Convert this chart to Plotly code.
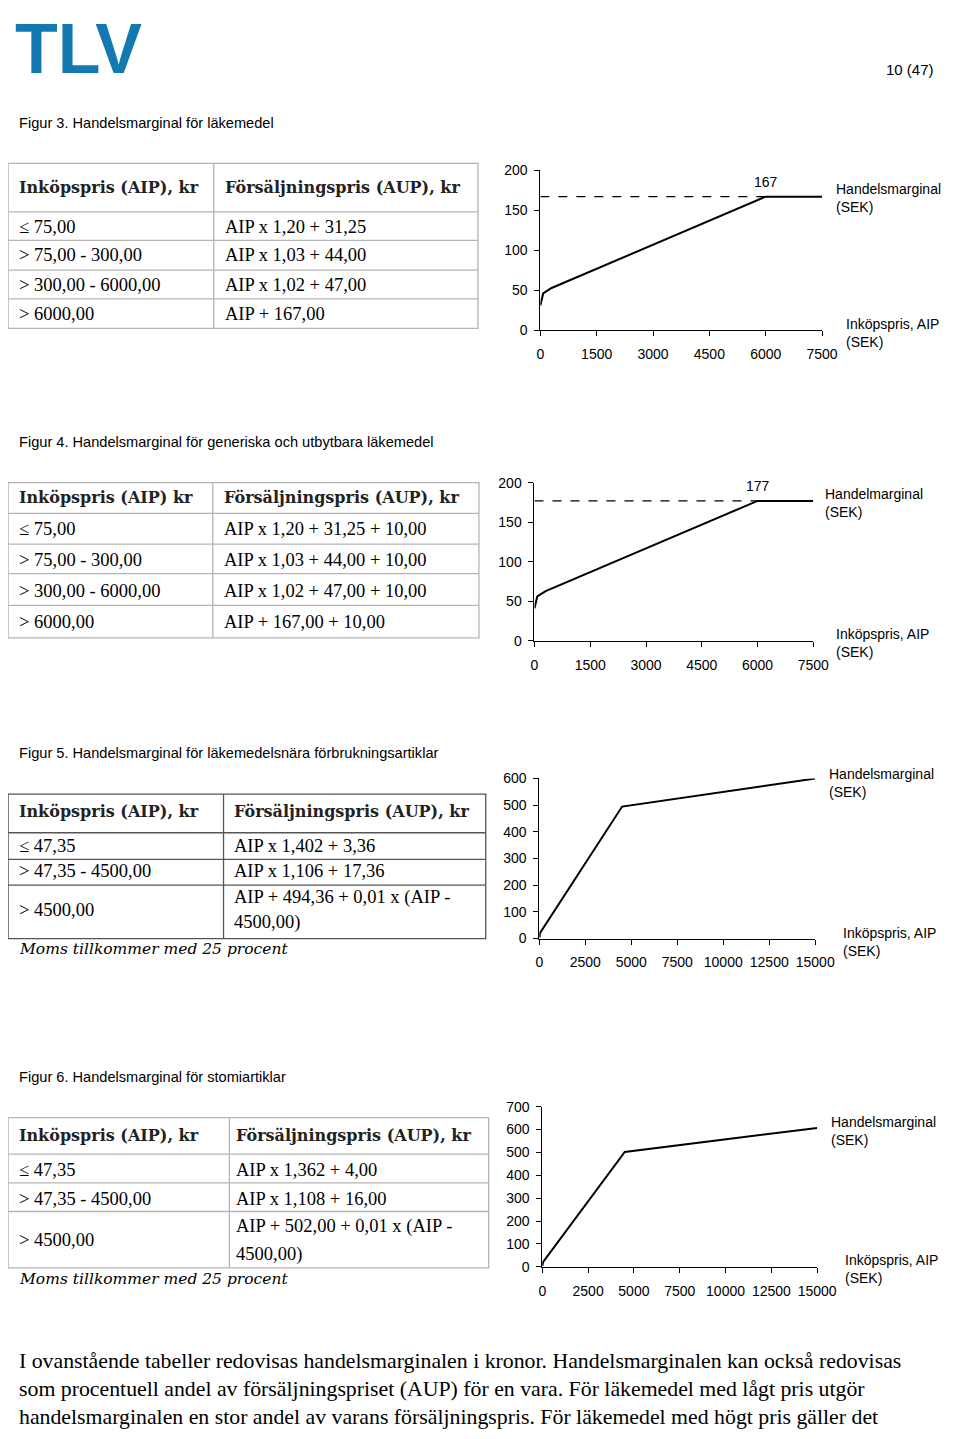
import plotly.graph_objects as go

# the page body has an 8px default margin; the browser window is 960x1439
OFF = 8
W, H = 960 - OFF, 1439 - OFF


def px(x):
    return (x - OFF) / W


def py(y):
    return 1 - (y - OFF) / H


# ---------------- data ----------------
fig3_aip = [0, 75, 300, 6000, 7500]
fig3_margin = [31.25, 46.25, 53.0, 167.0, 167.0]
fig3_cap = 167
fig3_xticks = [0, 1500, 3000, 4500, 6000, 7500]
fig3_yticks = [0, 50, 100, 150, 200]

fig4_aip = [0, 75, 300, 6000, 7500]
fig4_margin = [41.25, 56.25, 63.0, 177.0, 177.0]
fig4_cap = 177
fig4_xticks = [0, 1500, 3000, 4500, 6000, 7500]
fig4_yticks = [0, 50, 100, 150, 200]

fig5_aip = [0, 47.35, 4500, 15000]
fig5_margin = [3.36, 22.39, 494.36, 599.36]
fig5_xticks = [0, 2500, 5000, 7500, 10000, 12500, 15000]
fig5_yticks = [0, 100, 200, 300, 400, 500, 600]

fig6_aip = [0, 47.35, 4500, 15000]
fig6_margin = [4.0, 21.14, 502.0, 607.0]
fig6_xticks = [0, 2500, 5000, 7500, 10000, 12500, 15000]
fig6_yticks = [0, 100, 200, 300, 400, 500, 600, 700]

t1_left = ["≤ 75,00", "> 75,00 - 300,00", "> 300,00 - 6000,00", "> 6000,00"]
t1_right = ["AIP x 1,20 + 31,25", "AIP x 1,03 + 44,00", "AIP x 1,02 + 47,00", "AIP + 167,00"]
t2_left = ["≤ 75,00", "> 75,00 - 300,00", "> 300,00 - 6000,00", "> 6000,00"]
t2_right = ["AIP x 1,20 + 31,25 + 10,00", "AIP x 1,03 + 44,00 + 10,00",
            "AIP x 1,02 + 47,00 + 10,00", "AIP + 167,00 + 10,00"]
t3_left = ["≤ 47,35", "> 47,35 - 4500,00", "> 4500,00"]
t3_right = ["AIP x 1,402 + 3,36", "AIP x 1,106 + 17,36", "AIP + 494,36 + 0,01 x (AIP -", "4500,00)"]
t4_left = ["≤ 47,35", "> 47,35 - 4500,00", "> 4500,00"]
t4_right = ["AIP x 1,362 + 4,00", "AIP x 1,108 + 16,00", "AIP + 502,00 + 0,01 x (AIP -", "4500,00)"]

paragraph = [
    "I ovanstående tabeller redovisas handelsmarginalen i kronor. Handelsmarginalen kan också redovisas",
    "som procentuell andel av försäljningspriset (AUP) för en vara. För läkemedel med lågt pris utgör",
    "handelsmarginalen en stor andel av varans försäljningspris. För läkemedel med högt pris gäller det",
]

SANS = "Liberation Sans, Arial, sans-serif"
SERIF = "Liberation Serif, Times New Roman, serif"
HSERIF = "DejaVu Serif, Georgia, serif"

fig = go.Figure()

# ---------------- charts ----------------
charts = [
    dict(n="", x=fig3_aip, y=fig3_margin, cap=fig3_cap, xt=fig3_xticks, yt=fig3_yticks,
         xd=(550, 839), yd=(164, 326), xr=7500, yr=200),
    dict(n="2", x=fig4_aip, y=fig4_margin, cap=fig4_cap, xt=fig4_xticks, yt=fig4_yticks,
         xd=(544, 830), yd=(480, 640), xr=7500, yr=200),
    dict(n="3", x=fig5_aip, y=fig5_margin, cap=None, xt=fig5_xticks, yt=fig5_yticks,
         xd=(549, 832), yd=(779, 941), xr=15000, yr=600),
    dict(n="4", x=fig6_aip, y=fig6_margin, cap=None, xt=fig6_xticks, yt=fig6_yticks,
         xd=(552, 834), yd=(1111, 1273), xr=15000, yr=700),
]

layout_axes = {}
annotations = []
for c in charts:
    n = c["n"]
    xa, ya = "x" + n, "y" + n
    fig.add_trace(go.Scatter(x=c["x"], y=c["y"], mode="lines",
                             line=dict(color="black", width=2),
                             xaxis=xa, yaxis=ya, showlegend=False, hoverinfo="skip"))
    if c["cap"] is not None:
        fig.add_trace(go.Scatter(x=[c["x"][0], c["x"][3]], y=[c["cap"], c["cap"]], mode="lines",
                                 line=dict(color="black", width=1.2, dash="dash"),
                                 xaxis=xa, yaxis=ya, showlegend=False, hoverinfo="skip"))
        annotations.append(dict(x=c["x"][3], y=c["cap"], xref=xa, yref=ya, text=str(c["cap"]),
                                showarrow=False, yanchor="bottom", xanchor="center", yshift=5,
                                font=dict(family=SANS, size=14, color="black")))
    common = dict(showgrid=False, zeroline=False, showline=True, linecolor="black", linewidth=1,
                  ticks="outside", ticklen=5, tickcolor="black", tickwidth=1,
                  tickfont=dict(family=SANS, size=14, color="black"), fixedrange=True)
    layout_axes["xaxis" + n] = dict(common, domain=[px(c["xd"][0]), px(c["xd"][1])],
                                    range=[0, c["xr"]], tickvals=c["xt"],
                                    ticktext=[str(v) for v in c["xt"]],
                                    anchor=ya, ticklabelstandoff=6)
    layout_axes["yaxis" + n] = dict(common, domain=[py(c["yd"][1]), py(c["yd"][0])],
                                    range=[0, c["yr"]], tickvals=c["yt"],
                                    ticktext=[str(v) for v in c["yt"]],
                                    anchor=xa, ticklabelstandoff=4)

# chart side labels (left x, top y)
side_labels = [
    ("Handelsmarginal<br>(SEK)", 851, 173), ("Inköpspris, AIP<br>(SEK)", 862, 309),
    ("Handelmarginal<br>(SEK)", 840, 481), ("Inköpspris, AIP<br>(SEK)", 851, 623),
    ("Handelsmarginal<br>(SEK)", 844, 764), ("Inköpspris, AIP<br>(SEK)", 858, 925),
    ("Handelsmarginal<br>(SEK)", 846, 1116), ("Inköpspris, AIP<br>(SEK)", 861, 1256),
]
for t, x, y in side_labels:
    annotations.append(dict(x=px(x), y=py(y), xref="paper", yref="paper", text=t, showarrow=False,
                            xanchor="left", yanchor="top", align="left",
                            font=dict(family=SANS, size=14, color="black")))


def text(t, x, y, font, anchor="left", yanchor="middle"):
    annotations.append(dict(x=px(x), y=py(y), xref="paper", yref="paper", text=t, showarrow=False,
                            xanchor=anchor, yanchor=yanchor, align="left", font=font))


# ---------------- page texts ----------------
text("<b>TLV</b>", 9, 0, dict(family=SANS, size=70, color="#1479b0"), yanchor="top")
text("10 (47)", 956, 62, dict(family=SANS, size=15, color="black"), anchor="right")

title_font = dict(family=SANS, size=14.6, color="black")
text("Figur 3. Handelsmarginal för läkemedel", 13, 116, title_font)
text("Figur 4. Handelsmarginal för generiska och utbytbara läkemedel", 13, 439, title_font)
text("Figur 5. Handelsmarginal för läkemedelsnära förbrukningsartiklar", 13, 753, title_font)
text("Figur 6. Handelsmarginal för stomiartiklar", 13, 1081, title_font)

for i, line in enumerate(paragraph):
    text(line, 13, 1368 + i * 28.5, dict(family=SERIF, size=21.8, color="black"))

# ---------------- tables ----------------
shapes = []


def table(x0, x1, xdiv, ys, color):
    lc = dict(color=color, width=1.3)
    shapes.append(dict(type="rect", xref="paper", yref="paper", x0=px(x0), x1=px(x1),
                       y0=py(ys[-1]), y1=py(ys[0]), line=lc))
    for yy in ys[1:-1]:
        shapes.append(dict(type="line", xref="paper", yref="paper", x0=px(x0), x1=px(x1),
                           y0=py(yy), y1=py(yy), line=lc))
    shapes.append(dict(type="line", xref="paper", yref="paper", x0=px(xdiv), x1=px(xdiv),
                       y0=py(ys[-1]), y1=py(ys[0]), line=lc))


hfont = dict(family=HSERIF, size=16, color="#222")
bfont = dict(family=SERIF, size=18.5, color="black")
ifont = dict(family=HSERIF, size=15.5, color="black")

# table 1
table(4, 486, 215, [157, 206, 235, 265, 294, 324], "#b5b5b5")
text("<b>Inköpspris (AIP), kr</b>", 13, 181, hfont)
text("<b>Försäljningspris (AUP), kr</b>", 224, 181, hfont)
for i, (l, r) in enumerate(zip(t1_left, t1_right)):
    yy = [221, 250, 280, 309][i]
    text(l, 13, yy, bfont)
    text(r, 224, yy, bfont)

# table 2
table(4, 487, 214, [480, 511, 542, 572, 604, 637], "#b5b5b5")
text("<b>Inköpspris (AIP) kr</b>", 13, 495, hfont)
text("<b>Försäljningspris (AUP), kr</b>", 223, 495, hfont)
for i, (l, r) in enumerate(zip(t2_left, t2_right)):
    yy = [527, 558, 589, 621][i]
    text(l, 13, yy, bfont)
    text(r, 223, yy, bfont)

# table 3
table(4, 494, 225, [795, 834, 861, 887, 941], "#555555")
text("<b>Inköpspris (AIP), kr</b>", 13, 813, hfont)
text("<b>Försäljningspris (AUP), kr</b>", 234, 813, hfont)
text(t3_left[0], 13, 847, bfont)
text(t3_left[1], 13, 873, bfont)
text(t3_left[2], 13, 912, bfont)
for r, yy in zip(t3_right, [847, 873, 899, 925]):
    text(r, 234, yy, bfont)
text("<i>Moms tillkommer med 25 procent</i>", 13, 952, ifont)

# table 4
table(4, 497, 231, [1122, 1159, 1188, 1217, 1274], "#b5b5b5")
text("<b>Inköpspris (AIP), kr</b>", 13, 1140, hfont)
text("<b>Försäljningspris (AUP), kr</b>", 236, 1140, hfont)
text(t4_left[0], 13, 1175, bfont)
text(t4_left[1], 13, 1204, bfont)
text(t4_left[2], 13, 1246, bfont)
for r, yy in zip(t4_right, [1175, 1204, 1232, 1260]):
    text(r, 236, yy, bfont)
text("<i>Moms tillkommer med 25 procent</i>", 13, 1285, ifont)

fig.update_layout(
    width=W, height=H, autosize=False,
    margin=dict(l=0, r=0, t=0, b=0),
    paper_bgcolor="white", plot_bgcolor="white",
    annotations=annotations, shapes=shapes,
    **layout_axes,
)

fig.write_html("out.html", config=dict(displayModeBar=False))
